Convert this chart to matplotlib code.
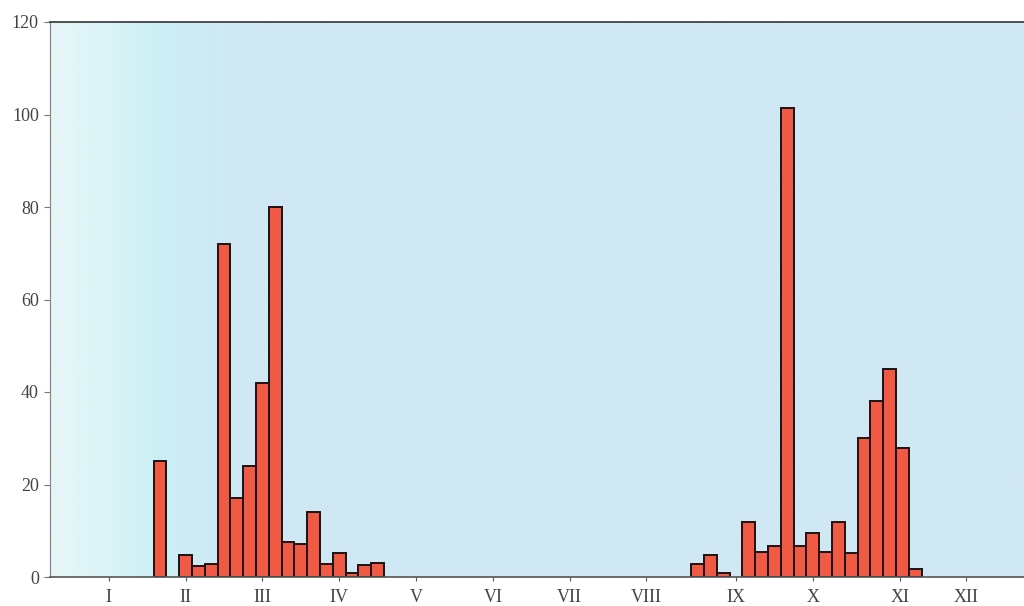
import numpy as np
import matplotlib.pyplot as plt
from matplotlib.colors import LinearSegmentedColormap

# Pentad (5-day) totals, slot 0 = first pentad aligned with month I
slots = list(range(72))
values = [0.0] * 72
spring = {4: 25, 6: 4.8, 7: 2.4, 8: 2.9, 9: 72, 10: 17, 11: 24, 12: 42, 13: 80,
          14: 7.6, 15: 7.2, 16: 14, 17: 2.9, 18: 5.1, 19: 0.9, 20: 2.5, 21: 3.1}
autumn = {46: 2.8, 47: 4.8, 48: 0.8, 50: 12, 51: 5.4, 52: 6.6, 53: 101.5, 54: 6.8,
          55: 9.6, 56: 5.3, 57: 12, 58: 5.1, 59: 30, 60: 38, 61: 45, 62: 28, 63: 1.8}
for k, v in {**spring, **autumn}.items():
    values[k] = v

months = ['I', 'II', 'III', 'IV', 'V', 'VI', 'VII', 'VIII', 'IX', 'X', 'XI', 'XII']
month_pos = [0, 6, 12, 18, 24, 30, 36, 42, 49, 55, 61.8, 67]

plt.rcParams['font.family'] = ['Liberation Serif', 'DejaVu Serif']

fig = plt.figure(figsize=(10.24, 6.06), dpi=100)
ax = fig.add_axes([50/1024, 1 - 577/606, 1 - 50/1024, (577 - 22)/606])

xmin, xmax = -4.6, 71.5
ymin, ymax = 0, 120

# background: pale cyan at the left fading into light blue
cmap = LinearSegmentedColormap.from_list(
    'bg', [(0, '#e6f6f7'), (0.05, '#dcf4f7'), (0.11, '#cceff6'), (0.2, '#cfe8f4'), (1, '#d0e8f4')])
grad = np.linspace(0, 1, 400).reshape(1, -1)
ax.imshow(grad, cmap=cmap, extent=[xmin, xmax, ymin, ymax], aspect='auto', zorder=0)

nz = [i for i in slots if values[i] > 0]
ax.bar([slots[i] for i in nz], [values[i] for i in nz], width=1.0,
       color='#f05a44', edgecolor='#1e1212', linewidth=1.4, zorder=2)

ax.set_xlim(xmin, xmax)
ax.set_ylim(ymin, ymax)

ax.set_yticks(range(0, 121, 20))
ax.set_xticks(month_pos)
ax.set_xticklabels(months)

ax.tick_params(axis='y', direction='out', length=4, width=0.8, colors='#777777',
               labelcolor='#444444', labelsize=13, pad=4)
ax.tick_params(axis='x', direction='out', length=3, width=0.8, colors='#555555',
               labelcolor='#444444', labelsize=13, pad=6)

ax.spines['right'].set_visible(False)
ax.spines['left'].set_color('#888888')
ax.spines['left'].set_linewidth(0.9)
ax.spines['bottom'].set_color('#555555')
ax.spines['bottom'].set_linewidth(1.2)
ax.spines['top'].set_color('#333333')
ax.spines['top'].set_linewidth(1.2)

fig.savefig('out.png', dpi=100)
